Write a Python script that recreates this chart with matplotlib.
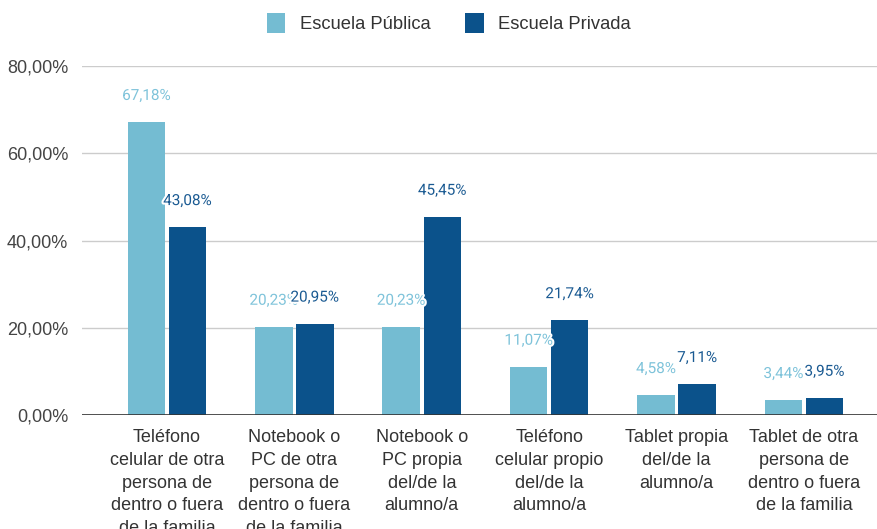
import numpy as np
import matplotlib
matplotlib.use('Agg')
import matplotlib.pyplot as plt
import matplotlib.patheffects as pe
from matplotlib.ticker import FuncFormatter

# datos
categorias = ['Teléfono\ncelular de otra\npersona de\ndentro o fuera\nde la familia',
              'Notebook o\nPC de otra\npersona de\ndentro o fuera\nde la familia',
              'Notebook o\nPC propia\ndel/de la\nalumno/a',
              'Teléfono\ncelular propio\ndel/de la\nalumno/a',
              'Tablet propia\ndel/de la\nalumno/a',
              'Tablet de otra\npersona de\ndentro o fuera\nde la familia']
publica = [67.18, 20.23, 20.23, 11.07, 4.58, 3.44]
privada = [43.08, 20.95, 45.45, 21.74, 7.11, 3.95]
series = ['Escuela Pública', 'Escuela Privada']
colores = ['#74bcd2', '#0b528b']
colores_txt = ['#7ec3da', '#1a5a92']
yticks = [0, 20, 40, 60, 80]

fig = plt.figure(figsize=(8.77, 5.29), dpi=100)
ax = fig.add_axes([82/877, 114/529, 1 - 82/877, 349/529])

x = np.arange(len(categorias))
ancho = 0.295
desp = 0.161

for vals, off, col, ctxt, nombre in zip([publica, privada], [-desp, desp], colores, colores_txt, series):
    barras = ax.bar(x + off, vals, width=ancho, color=col, label=nombre, zorder=3)
    for b, v in zip(barras, vals):
        ax.annotate(f'{v:.2f}%'.replace('.', ','),
                    (b.get_x() + b.get_width()/2, v),
                    xytext=(0, 26), textcoords='offset pixels',
                    ha='center', va='center', fontsize=11, color=ctxt,
                    family='Roboto', zorder=5,
                    path_effects=[pe.withStroke(linewidth=3, foreground='white')])

ax.set_ylim(0, 80)
ax.set_xlim(-0.667, 5.573)
ax.set_yticks(yticks)
ax.yaxis.set_major_formatter(FuncFormatter(lambda v, p: f'{v:.2f}%'.replace('.', ',')))
ax.set_xticks(x)
ax.set_xticklabels(categorias, family='Liberation Sans', fontsize=13, color='#333333', linespacing=1.45)
for t in ax.get_yticklabels():
    t.set_family('Liberation Sans')
    t.set_fontsize(13)
    t.set_color('#444444')
ax.tick_params(axis='both', length=0)
ax.tick_params(axis='y', pad=10)
ax.tick_params(axis='x', pad=10)
ax.grid(axis='y', color='#cccccc', linewidth=1, zorder=0)
ax.axhline(0, color='#333333', linewidth=1.2, zorder=4)
for s in ax.spines.values():
    s.set_visible(False)

fig.legend(loc='center', bbox_to_anchor=(449/877, 1 - 23/529), ncol=2, frameon=False,
           prop={'family': 'Liberation Sans', 'size': 13.2}, labelcolor='#333333',
           handlelength=1.0, handleheight=1.35, handletextpad=0.8, columnspacing=1.9)

fig.savefig('out.png', dpi=100)
